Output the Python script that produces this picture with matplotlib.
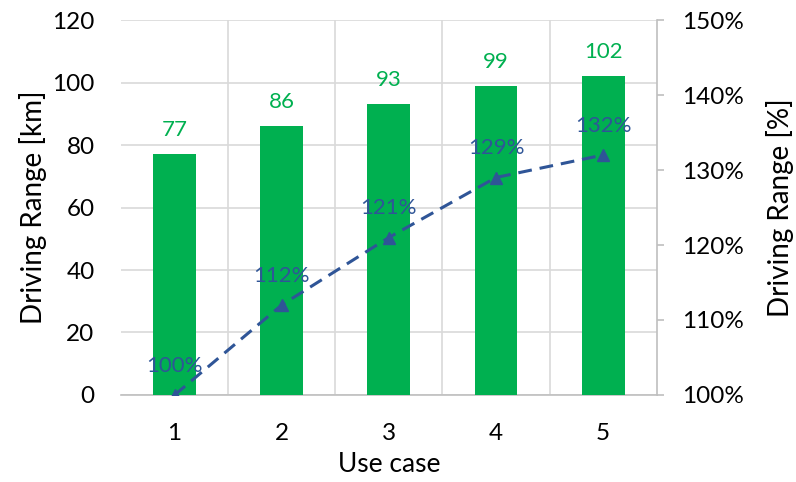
import matplotlib
matplotlib.use("Agg")
import matplotlib.pyplot as plt
from matplotlib.ticker import FuncFormatter, MultipleLocator

plt.rcParams['font.family'] = ['Lato', 'DejaVu Sans']

use_cases = [1, 2, 3, 4, 5]
range_km = [77, 86, 93, 99, 102]
range_pct = [100, 112, 121, 129, 132]

green = '#00B050'
blue = '#2F5597'
grid_c = '#D9D9D9'

fig = plt.figure(figsize=(7.96, 4.82), dpi=100)
ax = fig.add_axes([0.152, 0.1805, 0.673, 0.778])

ax.bar(use_cases, range_km, width=0.4, color=green, zorder=3)
for x, v in zip(use_cases, range_km):
    ax.annotate(f'{v}', (x, v), xytext=(0, 10), textcoords='offset points',
                ha='center', va='bottom', color=green, fontsize=16)

ax.set_xlim(0.5, 5.5)
ax.set_ylim(0, 120)
ax.yaxis.set_major_locator(MultipleLocator(20))
ax.set_xticks(use_cases)
ax.set_xticks([1.5, 2.5, 3.5, 4.5], minor=True)
ax.grid(True, which='major', axis='y', color=grid_c, lw=1.2, zorder=0)
ax.grid(True, which='minor', axis='x', color=grid_c, lw=1.2, zorder=0)
ax.tick_params(axis='both', which='both', length=0, labelsize=17.5, colors='black')
ax.tick_params(axis='x', pad=20)
ax.tick_params(axis='y', pad=19)
for s in ['top', 'left', 'right']:
    ax.spines[s].set_visible(False)
ax.spines['bottom'].set_color('#BFBFBF')
ax.spines['bottom'].set_linewidth(1.2)
ax.set_xlabel('Use case', fontsize=19, labelpad=6)
ax.set_ylabel('Driving Range [km]', fontsize=20, labelpad=4)

ax2 = ax.twinx()
ax2.plot(use_cases, range_pct, color=blue, lw=2.2, dashes=(4.5, 2.6),
         marker='^', markersize=9, zorder=4)
for x, v in zip(use_cases, range_pct):
    ax2.annotate(f'{v}%', (x, v), xytext=(0, 14), textcoords='offset points',
                 ha='center', va='bottom', color=blue, fontsize=16)
ax2.set_ylim(100, 150)
ax2.yaxis.set_major_locator(MultipleLocator(10))
ax2.yaxis.set_major_formatter(FuncFormatter(lambda v, p: f'{v:.0f}%'))
ax2.tick_params(axis='y', length=5, width=1.2, color='#BFBFBF', labelsize=17.5, pad=13)
for s in ['top', 'left', 'bottom']:
    ax2.spines[s].set_visible(False)
ax2.spines['right'].set_color('#BFBFBF')
ax2.spines['right'].set_linewidth(1.2)
ax2.set_ylabel('Driving Range [%]', fontsize=20, labelpad=16)

fig.savefig('out.png', dpi=100)
